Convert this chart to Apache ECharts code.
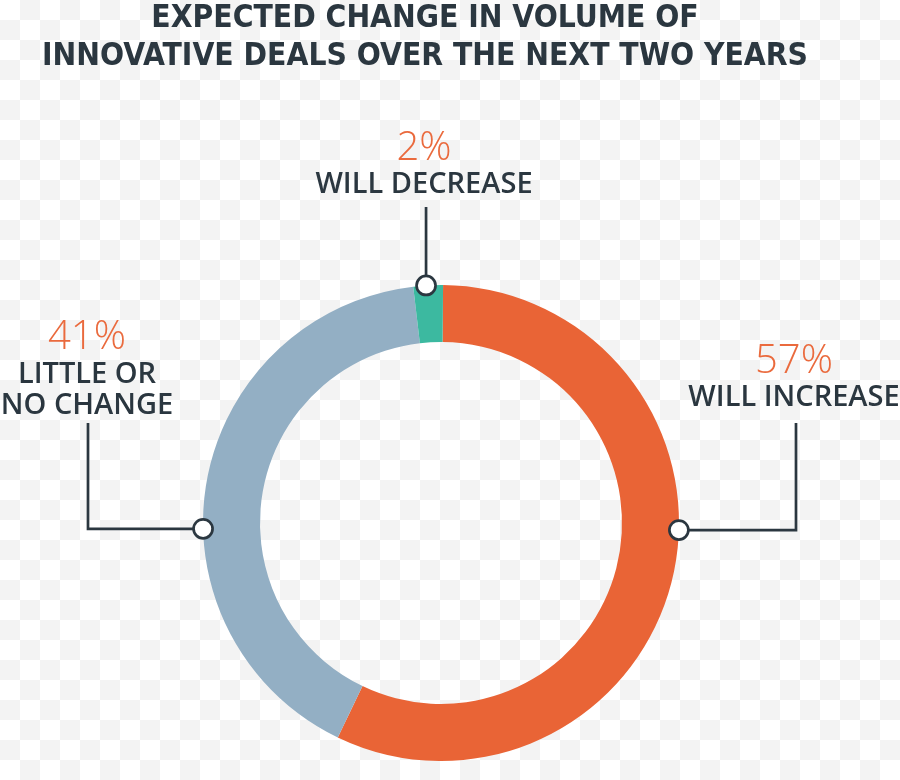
<!DOCTYPE html>
<html>
<head>
<meta charset="utf-8">
<script src="https://cdn.jsdelivr.net/npm/echarts@6/dist/echarts.min.js"></script>
<style>
html,body{margin:0;padding:0;}
body{background:repeating-conic-gradient(#f3f3f3 0 25%, #ffffff 0 50%) 0 0/40px 40px;}
#chart{width:900px;height:780px;}
</style>
</head>
<body>
<div id="chart"></div>
<script>
// ---- data ----
var titleLines = ['EXPECTED CHANGE IN VOLUME OF', 'INNOVATIVE DEALS OVER THE NEXT TWO YEARS'];
var categories = ['WILL INCREASE', 'LITTLE OR\nNO CHANGE', 'WILL DECREASE'];
var values = [57, 41, 2];
var colors = ['#e96436', '#93afc4', '#3cb9a0'];

// ---- layout ----
var cx = 441, cy = 523, rIn = 181, rOut = 238;
var startAng = 89.5;
var dark = '#2b3740';
var orange = '#ea6a3d';

var chart = echarts.init(document.getElementById('chart'), null, {renderer: 'canvas'});

var total = values.reduce(function (a, b) { return a + b; }, 0);
// angle (deg clockwise from 12 o'clock) of each slice midpoint
var mids = [];
var acc = 0;
values.forEach(function (v) { mids.push((90 - startAng) + (acc + v / 2) / total * 360); acc += v; });

function pt(angDeg, r) {
  var a = angDeg * Math.PI / 180;
  return [cx + r * Math.sin(a), cy - r * Math.cos(a)];
}

// marker angles: right side, left side, decrease slice middle
var markerAng = [91.7, 268.6, mids[2] - 0.5];
var mk = markerAng.map(function (a) { return pt(a, rOut); });

var lineStyle = {stroke: dark, lineWidth: 2.7, fill: null};
var graphics = [];
// title
titleLines.forEach(function (t, i) {
  graphics.push({type: 'text', x: 425, y: 19 + i * 38, style: {text: t, fill: dark,
    font: 'bold 31.5px "Liberation Sans Narrow", "DejaVu Sans Condensed", sans-serif',
    textAlign: 'center', textVerticalAlign: 'middle'}});
});
// leader lines
graphics.push({type: 'polyline', shape: {points: [mk[0], [796, mk[0][1]], [796, 423]]}, style: lineStyle});
graphics.push({type: 'polyline', shape: {points: [mk[1], [88, mk[1][1]], [88, 423]]}, style: lineStyle});
graphics.push({type: 'polyline', shape: {points: [mk[2], [mk[2][0], 207]]}, style: lineStyle});
// markers
mk.forEach(function (p) {
  graphics.push({type: 'circle', shape: {cx: p[0], cy: p[1], r: 9.5}, style: {fill: '#ffffff', stroke: dark, lineWidth: 2.7}, z: 10});
});
// labels
var labelPos = [
  {x: 794, p: 362, n: [398]},
  {x: 87, p: 338, n: [375, 406]},
  {x: 424, p: 149, n: [185]}
];
labelPos.forEach(function (lp, i) {
  graphics.push({type: 'text', x: lp.x, y: lp.p, style: {text: values[i] + '%', fill: orange,
    font: '300 40px "Open Sans", sans-serif', textAlign: 'center', textVerticalAlign: 'middle'}});
  categories[i].split('\n').forEach(function (line, j) {
    graphics.push({type: 'text', x: lp.x, y: lp.n[j], style: {text: line, fill: dark,
      font: '600 29px "Open Sans", sans-serif', textAlign: 'center', textVerticalAlign: 'middle'}});
  });
});

chart.setOption({
  backgroundColor: 'transparent',
  animation: false,
  series: [{
    type: 'pie',
    center: [cx, cy],
    radius: [rIn, rOut],
    startAngle: startAng,
    clockwise: true,
    label: {show: false},
    labelLine: {show: false},
    silent: true,
    data: values.map(function (v, i) {
      return {name: categories[i], value: v, itemStyle: {color: colors[i]}};
    })
  }],
  graphic: graphics
});
</script>
</body>
</html>
